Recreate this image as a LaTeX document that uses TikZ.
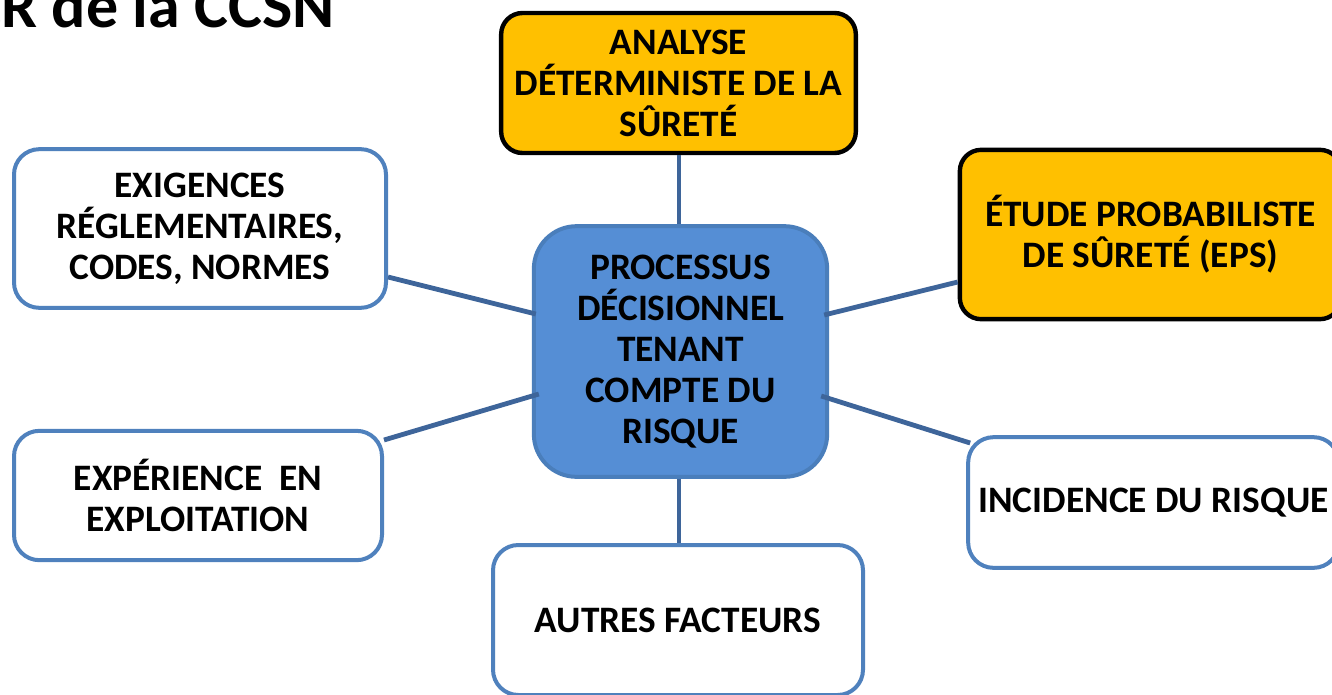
\documentclass[tikz,border=0pt]{standalone}
\usepackage{fontspec}
\setmainfont{Carlito}
\definecolor{orng}{RGB}{255,192,0}
\definecolor{cfill}{RGB}{85,142,213}
\definecolor{cdraw}{RGB}{74,126,187}
\definecolor{wdraw}{RGB}{79,129,189}
\definecolor{conn}{RGB}{62,101,154}
\begin{document}
\begin{tikzpicture}[x=0.75pt,y=-0.75pt,
  lbl/.style={font=\bfseries\fontsize{28pt}{30.75pt}\selectfont, align=center, inner sep=0pt},
  obox/.style={lbl, fill=orng, draw=black, line width=3.3pt, rounded corners=16pt},
  wbox/.style={lbl, fill=white, draw=wdraw, line width=3pt, rounded corners=19pt},
  cbox/.style={lbl, fill=cfill, draw=cdraw, line width=3pt, rounded corners=32pt},
  cline/.style={draw=conn, line width=3.6pt}]
\useasboundingbox (0,0) rectangle (1332,694);
\clip (0,0) rectangle (1332,694);
\node[anchor=base east, inner sep=0pt, font=\bfseries\fontsize{48pt}{56pt}\selectfont] (title) at (335,27) {CR de la CCSN};
\node[obox, minimum width=266pt, minimum height=105pt] (ana) at (678.5,83) {ANALYSE\\DÉTERMINISTE DE LA\\SÛRETÉ};
\node[cbox, minimum width=220pt, minimum height=188pt] (ctr) at (680.5,351.5) {PROCESSUS\\DÉCISIONNEL\\TENANT\\COMPTE DU\\RISQUE};
\node[wbox, minimum width=279pt, minimum height=119pt] (exi) at (200,228.5) {EXIGENCES\\RÉGLEMENTAIRES,\\CODES, NORMES};
\node[obox, minimum width=286pt, minimum height=127pt] (etu) at (1150.5,234.5) {ÉTUDE PROBABILISTE\\DE SÛRETÉ (EPS)};
\node[wbox, minimum width=276pt, minimum height=97pt] (exp) at (198,495.5) {EXPÉRIENCE\ \ EN\\EXPLOITATION};
\node[wbox, minimum width=278pt, minimum height=98pt] (inc) at (1153.5,502.5) {INCIDENCE DU RISQUE};
\node[wbox, minimum width=277.5pt, minimum height=112.5pt] (aut) at (678,620) {AUTRES FACTEURS};
\draw[cline] ([shift={(0,48.5)}]exi.east) -- ([shift={(4,-37.5)}]ctr.west);
\draw[cline] ([shift={(0,-55.5)}]exp.east) -- ([shift={(7,42.5)}]ctr.west);
\draw[cline] ([shift={(-5,-36.5)}]ctr.east) -- ([shift={(0,47.5)}]etu.west);
\draw[cline] ([shift={(-8,44.5)}]ctr.east) -- ([shift={(4,-59.5)}]inc.west);
\draw[cline] ([shift={(0.5,0)}]ana.south) -- ([shift={(-1.5,0)}]ctr.north);
\draw[cline] ([shift={(-1.5,0)}]ctr.south) -- ([shift={(1,0)}]aut.north);
\end{tikzpicture}
\end{document}
